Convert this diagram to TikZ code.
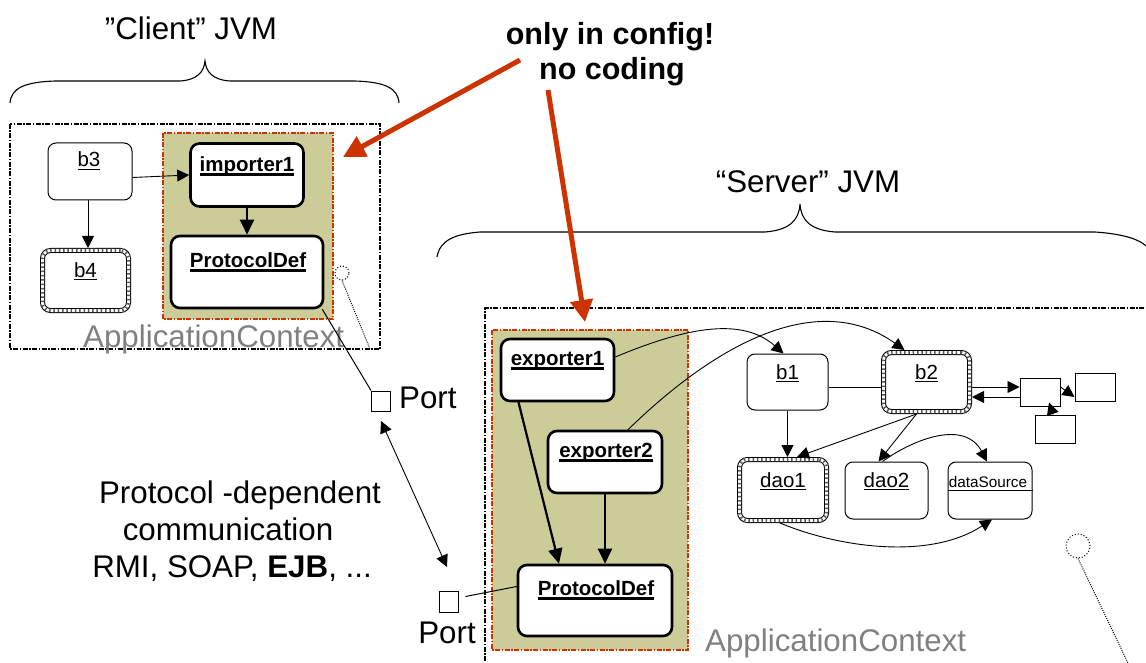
\documentclass[tikz,border=0pt]{standalone}
\usepackage{fontspec}
\setmainfont{Liberation Sans}
\usetikzlibrary{arrows.meta,calc}

\definecolor{olive}{RGB}{204,204,153}
\definecolor{cfgred}{RGB}{204,51,0}
\definecolor{ctxgray}{RGB}{128,128,128}

% underlined label: #1 rule thickness, #2 rule bottom below baseline, #3 text
\newcommand\ulin[3]{{\setbox0\hbox{#3}\rlap{\rule[-#2]{\wd0}{#1}}\box0}}

\tikzset{
  frame/.style={draw, line width=1.4pt, dash pattern=on 5pt off 1.5pt on 1.5pt off 1.5pt},
  cfgzone/.style={fill=olive, draw=cfgred, line width=1.4pt, dash pattern=on 5pt off 1.5pt on 1.5pt off 1.5pt},
  thinbox/.style={draw, fill=white, line width=1pt, rounded corners=8pt, inner sep=0pt},
  thickbox/.style={draw, fill=white, line width=2.6pt, rounded corners=9pt, inner sep=0pt},
  hatchbox/.style={draw, fill=white, line width=5pt, rounded corners=8pt, inner sep=0pt,
    postaction={draw=white, line width=3pt},
    postaction={draw=black!65, line width=3pt, dash pattern=on 1.5pt off 2.8pt}},
  plainbox/.style={draw, line width=1pt, inner sep=0pt, minimum width=40pt, minimum height=28pt},
  portbox/.style={draw, line width=1pt, inner sep=0pt, minimum width=19pt, minimum height=20pt},
  tri/.style={-{Triangle[length=12pt,width=12pt]}, line width=0.9pt},
  ttri/.style={-{Triangle[length=15pt,width=14pt]}, line width=2.2pt},
  redarrow/.style={draw=cfgred, line width=5pt, -{Triangle[length=22pt,width=22pt]}},
  lbl/.style={font=\fontsize{20.5}{24}\selectfont, inner sep=0pt, anchor=base},
  blbl/.style={font=\fontsize{20.5}{24}\selectfont\bfseries, inner sep=0pt, anchor=base},
  bigtxt/.style={font=\fontsize{31.3}{36}\selectfont, inner sep=0pt, anchor=base},
  boldtxt/.style={font=\fontsize{30.5}{36}\selectfont\bfseries, inner sep=0pt, anchor=base},
  ctxtxt/.style={font=\fontsize{31.3}{36}\selectfont, text=ctxgray, inner sep=0pt, anchor=base west},
  brace/.style={draw, line width=1.1pt},
  dotline/.style={draw, line width=1pt, dash pattern=on 1pt off 1.2pt},
}

\begin{document}
\begin{tikzpicture}[x=1pt,y=-1pt]
\useasboundingbox (0,0) rectangle (1146,663);

% ---------- braces and headings ----------
\node[bigtxt] (cjvm) at (191,40) {”Client” JVM};
\draw[brace] (10,103) .. controls (11,88) and (25,82) .. (55,81) -- (180,81)
  .. controls (197,80) and (204,72) .. (205,61)
  .. controls (206,72) and (213,80) .. (230,81) -- (355,81)
  .. controls (385,82) and (398,88) .. (399,103);

\node[bigtxt] (sjvm) at (808,193) {“Server” JVM};
\draw[brace] (437,257) .. controls (440,240) and (455,234) .. (480,232) -- (765,232)
  .. controls (790,230) and (799,220) .. (800,204)
  .. controls (801,220) and (810,230) .. (835,232) -- (1095,232)
  .. controls (1125,234) and (1140,240) .. (1146,246);

\node[boldtxt] (cfg1) at (610,45) {only in config!};
\node[boldtxt] (cfg2) at (612,80) {no coding};

% ---------- client application context ----------
\draw[cfgzone] (163,133) rectangle (333,319);
\draw[frame] (10,124) rectangle (380,349);
\node[ctxtxt] (cctx) at (83,347) {ApplicationContext};

\node[thinbox, minimum width=84pt, minimum height=57pt] (b3) at (90,171.5) {};
\node[thickbox, minimum width=113pt, minimum height=63pt] (imp1) at (247,175) {};
\node[hatchbox, minimum width=86pt, minimum height=60pt] (b4) at (85.5,280.5) {};
\node[thickbox, minimum width=152pt, minimum height=72pt] (cpd) at (247,272) {};

\node[lbl] (b3t) at (89,167) {\ulin{1.2pt}{3pt}{b3}};
\node[blbl] (imp1t) at (247,172) {\ulin{3pt}{4.5pt}{importer1}};
\node[lbl] (b4t) at (85.5,277) {\ulin{1.2pt}{3pt}{b4}};
\node[blbl] (cpdt) at (248,267) {\ulin{3pt}{4.5pt}{ProtocolDef}};

\draw[tri] ([yshift=-6pt]b3.east) -- (imp1.west);
\draw[tri] ([xshift=-2pt]b3.south) -- ([xshift=-2pt]b3.south |- b4.north);
\draw[ttri] (imp1.south) -- (cpd.north);

\node[draw, dotted, line width=1pt, circle, minimum size=14pt, inner sep=0pt] (cdot) at (342,273) {};
\coordinate (cdotend) at (370,349);
\draw[dotline] (cdot.south) -- (cdotend);

% ---------- ports and protocol ----------
\node[portbox] (port1) at (381,401) {};
\node[bigtxt, anchor=base west] (port1t) at (399,408) {Port};
\node[portbox, minimum height=21pt] (port2) at (448.5,601.5) {};
\node[bigtxt] (port2t) at (447,643) {Port};

\draw[line width=1pt] ([xshift=-2pt]cpd.south east) -- (port1.north west);
\coordinate (pa) at (381,421);
\coordinate (pb) at (447,567);
\draw[{Triangle[length=12pt,width=12pt]}-{Triangle[length=12pt,width=12pt]}, line width=0.9pt] (pa) -- (pb);

\node[bigtxt] (pr1) at (240,503) {Protocol -dependent};
\node[bigtxt] (pr2) at (228,540) {communication};
\node[bigtxt] (pr3) at (232,577) {RMI, SOAP, \textbf{EJB}, ...};

% ---------- server application context ----------
\draw[frame] (485,680) -- (485,308) -- (1160,308);
\draw[cfgzone] (492,330) rectangle (688,650);
\node[ctxtxt] (sctx) at (705,651) {ApplicationContext};

\node[thickbox, minimum width=113pt, minimum height=62pt] (exp1) at (557.5,370) {};
\node[thickbox, minimum width=114pt, minimum height=62pt] (exp2) at (605,462) {};
\node[thickbox, minimum width=154pt, minimum height=71pt] (spd) at (595,600.5) {};

\node[blbl] (exp1t) at (557.5,365) {\ulin{3pt}{4.5pt}{exporter1}};
\node[blbl] (exp2t) at (606,457) {\ulin{3pt}{4.5pt}{exporter2}};
\node[blbl] (spdt) at (596,595) {\ulin{3pt}{4.5pt}{ProtocolDef}};

\draw[line width=1pt] ([xshift=7pt,yshift=5pt]port2.east) -- ([yshift=14pt]spd.west);

\draw[ttri] ([xshift=-39pt]exp1.south) -- ([xshift=-36pt]spd.north);
\draw[ttri] (exp2.south) -- (exp2.south |- spd.north);

\node[thinbox, minimum width=81pt, minimum height=56pt] (b1) at (787.5,382) {};
\node[hatchbox, minimum width=86pt, minimum height=59pt] (b2) at (926.5,382) {};
\node[hatchbox, minimum width=87pt, minimum height=61pt] (dao1) at (783,490) {};
\node[thinbox, minimum width=83pt, minimum height=57pt] (dao2) at (886.5,490.5) {};
\node[thinbox, minimum width=84pt, minimum height=57pt] (ds) at (990,490.5) {};
\draw[line width=1pt] (ds.west) -- (ds.east);

\node[lbl] (b1t) at (787.5,379) {\ulin{1.2pt}{3pt}{b1}};
\node[lbl] (b2t) at (926.5,379) {\ulin{1.2pt}{3pt}{b2}};
\node[lbl] (dao1t) at (783,487) {\ulin{1.2pt}{3pt}{dao1}};
\node[lbl] (dao2t) at (886.5,487) {\ulin{1.2pt}{3pt}{dao2}};
\node[lbl, font=\fontsize{15.3}{18}\selectfont] (dst) at (988,487) {dataSource};

\node[plainbox] (box1) at (1040,392) {};
\node[plainbox] (box2) at (1095,387) {};
\node[plainbox] (box3) at (1055,429) {};

\draw[line width=1pt] ([yshift=-5pt]b1.east) -- ([yshift=-5pt]b2.west);
\draw[tri] ([yshift=-5pt]b2.east) -- ([yshift=5pt]box1.west);
\draw[tri] ([yshift=-5pt]box1.west) -- ([yshift=-15pt]b2.east);
\draw[tri] ([yshift=5pt]box1.east) -- ([yshift=-10pt]box2.west);
\draw[tri] ([xshift=-2pt]box3.north) -- ([xshift=9pt,yshift=4pt]box1.south);

\draw[tri] (b1.south) -- (b1.south |- dao1.north);
\draw[tri] ([xshift=-10pt]b2.south) -- ([xshift=14pt]dao1.north);
\draw[tri] ([xshift=-10pt]b2.south) -- ([xshift=-8pt]dao2.north);
\draw[tri] ([xshift=-4pt]dao2.north) .. controls (915,438) and (965,420) .. ([xshift=-3pt]ds.north);
\draw[tri] ([xshift=-3pt]dao1.south) .. controls (840,548) and (930,560) .. ([xshift=2pt]ds.south);

\draw[tri] ([yshift=13pt]exp1.east) .. controls (680,330) and (740,315) .. ([xshift=-4pt]b1.north);
\draw[tri] ([xshift=23pt]exp2.north) .. controls (720,340) and (820,290) .. ([xshift=-22pt]b2.north);

\node[draw, dotted, line width=1pt, circle, minimum size=24pt, inner sep=0pt] (sdot) at (1078,546) {};
\coordinate (sdotend) at (1128,663);
\draw[dotline] (sdot.south) -- (sdotend);

% ---------- configuration callouts ----------
\coordinate (r1s) at (520,60);
\coordinate (r1e) at (343,157);
\coordinate (r2s) at (548,90);
\coordinate (r2e) at (585,322);
\draw[redarrow] (r1s) -- (r1e);
\draw[redarrow] (r2s) -- (r2e);
\end{tikzpicture}
\end{document}
